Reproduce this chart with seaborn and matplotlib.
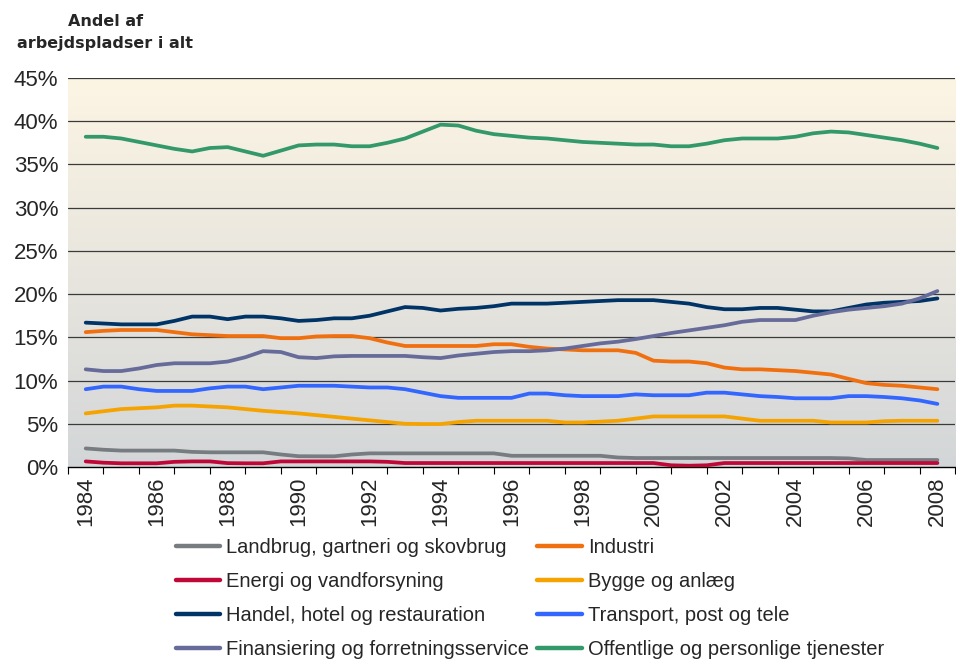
import numpy as np
import pandas as pd
import matplotlib.pyplot as plt
import seaborn as sns
from matplotlib.lines import Line2D

sns.set_theme(style="white")
plt.rcParams["font.family"] = ["Liberation Sans", "DejaVu Sans"]

# half-year observations 1984.0 ... 2008.0
years = np.arange(1984, 2008.01, 0.5)

landbrug = [2.15, 2.0, 1.9, 1.9, 1.9, 1.9, 1.75, 1.7, 1.7, 1.7, 1.7, 1.45, 1.25, 1.24, 1.24, 1.45,
            1.58, 1.58, 1.58, 1.58, 1.58, 1.58, 1.58, 1.58, 1.3, 1.3, 1.3, 1.3, 1.3, 1.3, 1.1, 1.04,
            1.04, 1.04, 1.04, 1.04, 1.04, 1.04, 1.04, 1.04, 1.04, 1.04, 1.04, 1.0, 0.81, 0.81, 0.81,
            0.81, 0.81]
industri = [15.6, 15.75, 15.85, 15.85, 15.85, 15.6, 15.35, 15.25, 15.15, 15.15, 15.15, 14.9, 14.9,
            15.1, 15.15, 15.15, 14.9, 14.4, 14.0, 14.0, 14.0, 14.0, 14.0, 14.2, 14.2, 13.9, 13.7,
            13.6, 13.5, 13.5, 13.5, 13.2, 12.3, 12.2, 12.2, 12.0, 11.5, 11.3, 11.3, 11.2, 11.1, 10.9,
            10.7, 10.2, 9.7, 9.5, 9.4, 9.2, 9.0]
energi = [0.65, 0.5, 0.43, 0.43, 0.43, 0.6, 0.65, 0.65, 0.45, 0.43, 0.43, 0.65, 0.65, 0.65, 0.65,
          0.65, 0.65, 0.6, 0.46, 0.46, 0.46, 0.46, 0.46, 0.46, 0.46, 0.46, 0.46, 0.46, 0.46, 0.46,
          0.46, 0.46, 0.46, 0.2, 0.15, 0.2, 0.46, 0.46, 0.46, 0.46, 0.46, 0.46, 0.46, 0.46, 0.46,
          0.46, 0.46, 0.46, 0.46]
bygge = [6.2, 6.45, 6.7, 6.8, 6.9, 7.1, 7.1, 7.0, 6.9, 6.7, 6.5, 6.35, 6.2, 6.0, 5.8, 5.6, 5.4,
         5.2, 5.0, 4.97, 4.97, 5.2, 5.35, 5.35, 5.35, 5.35, 5.35, 5.15, 5.15, 5.25, 5.35, 5.6, 5.85,
         5.85, 5.85, 5.85, 5.85, 5.6, 5.35, 5.35, 5.35, 5.35, 5.15, 5.15, 5.15, 5.3, 5.35, 5.35, 5.35]
handel = [16.7, 16.6, 16.5, 16.5, 16.5, 16.9, 17.4, 17.4, 17.1, 17.4, 17.4, 17.2, 16.9, 17.0, 17.2,
          17.2, 17.5, 18.0, 18.5, 18.4, 18.1, 18.3, 18.4, 18.6, 18.9, 18.9, 18.9, 19.0, 19.1, 19.2,
          19.3, 19.3, 19.3, 19.1, 18.9, 18.5, 18.25, 18.25, 18.4, 18.4, 18.2, 18.0, 18.0, 18.4, 18.8,
          19.0, 19.1, 19.2, 19.5]
transport = [9.0, 9.3, 9.3, 9.0, 8.8, 8.8, 8.8, 9.1, 9.3, 9.3, 9.0, 9.2, 9.4, 9.4, 9.4, 9.3, 9.2,
             9.2, 9.0, 8.6, 8.2, 8.0, 8.0, 8.0, 8.0, 8.5, 8.5, 8.3, 8.2, 8.2, 8.2, 8.4, 8.3, 8.3, 8.3,
             8.6, 8.6, 8.4, 8.2, 8.1, 7.95, 7.95, 7.95, 8.2, 8.2, 8.1, 7.95, 7.7, 7.3]
finans = [11.3, 11.1, 11.1, 11.4, 11.8, 12.0, 12.0, 12.0, 12.2, 12.7, 13.4, 13.3, 12.7, 12.6, 12.8,
          12.85, 12.85, 12.85, 12.85, 12.7, 12.6, 12.9, 13.1, 13.3, 13.4, 13.4, 13.5, 13.7, 14.0,
          14.3, 14.5, 14.8, 15.15, 15.5, 15.8, 16.1, 16.4, 16.8, 17.0, 17.0, 17.0, 17.5, 17.9, 18.2,
          18.4, 18.6, 18.9, 19.5, 20.35]
offentlige = [38.2, 38.2, 38.0, 37.6, 37.2, 36.8, 36.5, 36.9, 37.0, 36.5, 36.0, 36.6, 37.2, 37.3,
              37.3, 37.1, 37.1, 37.5, 38.0, 38.8, 39.6, 39.5, 38.9, 38.5, 38.3, 38.1, 38.0, 37.8,
              37.6, 37.5, 37.4, 37.3, 37.3, 37.1, 37.1, 37.4, 37.8, 38.0, 38.0, 38.0, 38.2, 38.6,
              38.8, 38.7, 38.4, 38.1, 37.8, 37.4, 36.9]

sectors = ["Landbrug, gartneri og skovbrug", "Industri", "Energi og vandforsyning",
           "Bygge og anlæg", "Handel, hotel og restauration", "Transport, post og tele",
           "Finansiering og forretningsservice", "Offentlige og personlige tjenester"]
colors = ["#767c80", "#f07010", "#c00838", "#f5a300", "#003366", "#3366ff", "#666b99", "#33996a"]
series = [landbrug, industri, energi, bygge, handel, transport, finans, offentlige]

df = pd.concat([pd.DataFrame({"year": years, "share": s, "sector": name})
                for name, s in zip(sectors, series)], ignore_index=True)

fig = plt.figure(figsize=(9.56, 6.63), dpi=100)
ax = fig.add_axes([0.0711, 0.2956, 0.928, 0.5868])

# background gradient cream -> grey
top = np.array([253, 245, 228]) / 255
bot = np.array([211, 214, 216]) / 255
grad = np.linspace(0, 1, 256)[:, None, None] * (bot - top) + top
ax.imshow(grad, extent=[0, 1, 0, 1], transform=ax.transAxes, aspect="auto", zorder=0)

sns.lineplot(data=df, x="year", y="share", hue="sector", hue_order=sectors,
             palette=dict(zip(sectors, colors)), linewidth=2.7, legend=False, ax=ax, zorder=3)

ax.set_xlim(1983.5, 2008.2)
ax.set_ylim(0, 45)
for v in range(5, 50, 5):
    ax.axhline(v, color="#3a3a3a", lw=0.9, zorder=1)

ax.set_yticks(range(0, 50, 5))
ax.set_yticklabels([f"{v}%" for v in range(0, 50, 5)], fontsize=16)
ax.set_xticks(range(1984, 2009, 2))
ax.set_xticklabels([str(y) for y in range(1984, 2009, 2)], rotation=90, fontsize=16)
ax.set_xticks(np.arange(1983.5, 2008.6, 1), minor=True)
ax.tick_params(axis="x", which="major", length=0, pad=7)
ax.tick_params(axis="x", which="minor", length=5, width=0.8, color="black", direction="out")
ax.tick_params(axis="y", length=0, pad=7)
ax.xaxis.set_ticks_position("bottom")
ax.set_xlabel("")
ax.set_ylabel("")
for side in ["left", "top", "right"]:
    ax.spines[side].set_visible(False)
ax.spines["bottom"].set_color("black")
ax.spines["bottom"].set_linewidth(1)

fig.text(0.110, 0.951, "Andel af\narbejdspladser i alt", ha="center", va="center",
         fontsize=11.5, fontweight="bold", family="DejaVu Sans", linespacing=1.6)

handles = [Line2D([], [], color=c, lw=3.2) for c in colors]
order = [0, 2, 4, 6, 1, 3, 5, 7]
fig.legend([handles[i] for i in order], [sectors[i] for i in order], ncol=2,
           loc="upper left", bbox_to_anchor=(0.184, 0.189), frameon=False, fontsize=14.5,
           handlelength=2.2, handletextpad=0.3, columnspacing=0.4, labelspacing=0.75,
           borderaxespad=0, borderpad=0)

fig.savefig("out.png", dpi=100)
